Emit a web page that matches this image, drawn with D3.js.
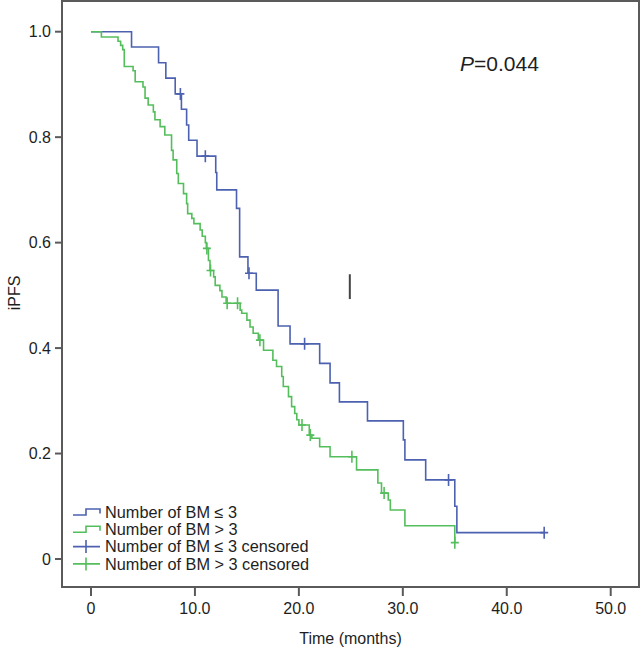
<!DOCTYPE html>
<html>
<head>
<meta charset="utf-8">
<script src="https://cdn.jsdelivr.net/npm/d3@7"></script>
<style>
  html, body { margin: 0; padding: 0; background: #fff; }
  svg { display: block; font-family: "Liberation Sans", Arial, sans-serif; }
</style>
</head>
<body>
<svg id="chart" width="641" height="649"></svg>
<script>
// ---- Data ----
const blueName = "Number of BM \u2264 3";
const greenName = "Number of BM > 3";
const blueTimes = [3.9,6.5,7.2,8.1,8.7,9.2,9.4,10.2,12.0,12.1,14.0,14.3,15.1,15.9,18.0,19.15,22.0,23.0,23.9,26.6,30.05,30.2,32.2,35.0,35.2];
const blueSurv  = [0.971,0.941,0.912,0.882,0.853,0.823,0.794,0.764,0.733,0.700,0.665,0.573,0.542,0.510,0.442,0.408,0.371,0.334,0.298,0.262,0.226,0.188,0.150,0.100,0.050];
const blueEnd = 43.6;
const blueCensorT = [8.6, 11.0, 15.2, 20.55, 34.4, 43.6];
const blueCensorS = [0.882, 0.764, 0.542, 0.408, 0.150, 0.050];

const greenTimes = [1.0,2.6,2.85,3.05,3.2,4.05,4.25,5.0,5.2,5.5,6.0,6.15,6.65,7.1,7.75,7.9,8.25,8.4,8.9,9.2,9.3,9.7,9.9,10.5,10.7,11.0,11.1,11.3,11.45,11.8,11.95,12.4,12.6,13.0,14.35,14.5,15.0,15.3,15.6,16.1,16.6,17.5,17.85,18.35,18.5,19.0,19.3,19.6,19.8,20.0,21.0,21.25,22.0,23.0,25.55,27.6,27.95,28.6,28.8,30.2,35.0];
const greenSurv  = [0.99,0.982,0.974,0.966,0.934,0.926,0.905,0.895,0.874,0.861,0.848,0.833,0.820,0.804,0.775,0.757,0.731,0.712,0.693,0.674,0.655,0.646,0.636,0.624,0.612,0.600,0.589,0.566,0.547,0.535,0.519,0.509,0.497,0.485,0.472,0.466,0.453,0.440,0.428,0.415,0.396,0.377,0.365,0.346,0.327,0.308,0.289,0.276,0.264,0.254,0.235,0.229,0.213,0.194,0.169,0.144,0.125,0.112,0.093,0.063,0.031];
const greenEnd = 35.0;
const greenCensorT = [11.15, 11.5, 13.1, 14.1, 16.25, 20.3, 21.1, 25.1, 28.2, 35.0];
const greenCensorS = [0.589, 0.547, 0.485, 0.485, 0.415, 0.254, 0.235, 0.194, 0.125, 0.031];

const xTicks = [0, 10, 20, 30, 40, 50];
const xTickLabels = ["0", "10.0", "20.0", "30.0", "40.0", "50.0"];
const yTicks = [0, 0.2, 0.4, 0.6, 0.8, 1.0];
const yTickLabels = ["0", "0.2", "0.4", "0.6", "0.8", "1.0"];
const pText = "=0.044";
const pPos = [35.5, 0.925];
const markT = 24.9;
const markS = [0.493, 0.540];

// ---- Layout ----
const svg = d3.select("#chart");
const frame = {left: 62, right: 639, top: 1, bottom: 587};
const x = d3.scaleLinear().domain([0, 50]).range([91, 610.7]);
const y = d3.scaleLinear().domain([0, 1]).range([559, 31.7]);
const blueCol = "#4c61b0";
const greenCol = "#55be5c";
const axisCol = "#5a5a5a";
const textCol = "#1e1e1e";

// frame
svg.append("rect")
  .attr("x", frame.left).attr("y", frame.top)
  .attr("width", frame.right - frame.left).attr("height", frame.bottom - frame.top)
  .attr("fill", "none").attr("stroke", axisCol).attr("stroke-width", 2);

// y ticks
yTicks.forEach((v, i) => {
  svg.append("line").attr("x1", frame.left - 7).attr("x2", frame.left)
    .attr("y1", y(v)).attr("y2", y(v)).attr("stroke", axisCol).attr("stroke-width", 2);
  svg.append("text").attr("x", 51).attr("y", y(v)).attr("dy", "0.35em")
    .attr("text-anchor", "end").attr("font-size", 16).attr("fill", textCol)
    .text(yTickLabels[i]);
});
// x ticks
xTicks.forEach((v, i) => {
  svg.append("line").attr("x1", x(v)).attr("x2", x(v))
    .attr("y1", frame.bottom).attr("y2", frame.bottom + 9).attr("stroke", axisCol).attr("stroke-width", 2);
  svg.append("text").attr("x", x(v)).attr("y", 608).attr("dy", "0.35em")
    .attr("text-anchor", "middle").attr("font-size", 16).attr("fill", textCol)
    .text(xTickLabels[i]);
});
// axis titles
svg.append("text").attr("x", (frame.left + frame.right) / 2).attr("y", 638).attr("dy", "0.35em")
  .attr("text-anchor", "middle").attr("font-size", 16).attr("fill", textCol).text("Time (months)");
svg.append("text").attr("transform", "translate(14,293) rotate(-90)").attr("dy", "0.35em")
  .attr("text-anchor", "middle").attr("font-size", 16).attr("fill", textCol).text("iPFS");

// curves
const stepLine = d3.line().x(d => x(d[0])).y(d => y(d[1])).curve(d3.curveStepAfter);
function pts(times, surv, end) {
  const p = [[0, 1]];
  times.forEach((t, i) => p.push([t, surv[i]]));
  if (end > times[times.length - 1]) p.push([end, surv[surv.length - 1]]);
  return p;
}
function censor(ts, ss, col) {
  ts.forEach((t, i) => {
    const cx = x(t), cy = y(ss[i]);
    svg.append("path")
      .attr("d", `M${cx - 4},${cy}H${cx + 4}M${cx},${cy - 6}V${cy + 6}`)
      .attr("stroke", col).attr("stroke-width", 1.6).attr("fill", "none");
  });
}
svg.append("path").attr("d", stepLine(pts(blueTimes, blueSurv, blueEnd)))
  .attr("fill", "none").attr("stroke", blueCol).attr("stroke-width", 1.6);
censor(blueCensorT, blueCensorS, blueCol);
svg.append("path").attr("d", stepLine(pts(greenTimes, greenSurv, greenEnd)))
  .attr("fill", "none").attr("stroke", greenCol).attr("stroke-width", 1.6);
censor(greenCensorT, greenCensorS, greenCol);

// stray mark
svg.append("line").attr("x1", x(markT)).attr("x2", x(markT))
  .attr("y1", y(markS[0])).attr("y2", y(markS[1]))
  .attr("stroke", "#444").attr("stroke-width", 2);

// P value
const pt = svg.append("text").attr("x", x(pPos[0])).attr("y", y(pPos[1]))
  .attr("font-size", 21).attr("fill", textCol);
pt.append("tspan").attr("font-style", "italic").text("P");
pt.append("tspan").text(pText);

// legend
const legItems = [
  {label: blueName, col: blueCol, type: "step"},
  {label: greenName, col: greenCol, type: "step"},
  {label: blueName + " censored", col: blueCol, type: "cross"},
  {label: greenName + " censored", col: greenCol, type: "cross"}
];
legItems.forEach((d, i) => {
  const cy = 512 + i * 17.3;
  if (d.type === "step") {
    svg.append("path").attr("d", `M73,${cy + 3}H86V${cy - 3}H100V${cy + 1.5}`)
      .attr("fill", "none").attr("stroke", d.col).attr("stroke-width", 1.6);
  } else {
    svg.append("path").attr("d", `M73,${cy}H100M86,${cy - 6.5}V${cy + 6.5}`)
      .attr("fill", "none").attr("stroke", d.col).attr("stroke-width", 1.6);
  }
  svg.append("text").attr("x", 105).attr("y", cy).attr("dy", "0.35em")
    .attr("font-size", 16.3).attr("fill", textCol).text(d.label);
});
</script>
</body>
</html>
